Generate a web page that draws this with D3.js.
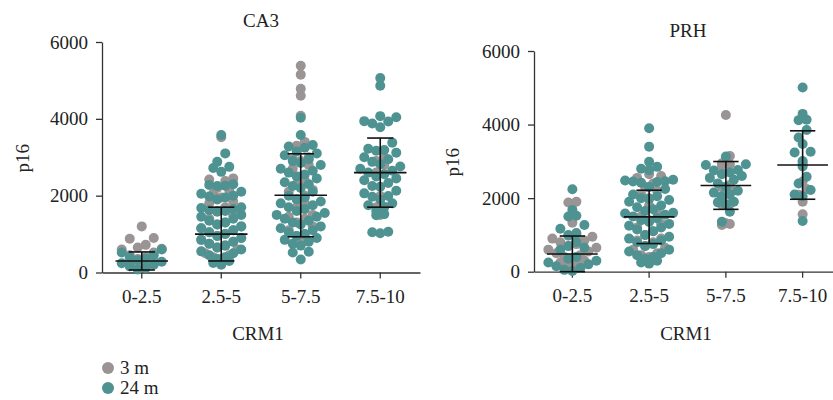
<!DOCTYPE html>
<html>
<head>
<meta charset="utf-8">
<title>p16 vs CRM1</title>
<script src="https://d3js.org/d3.v7.min.js"></script>
<style>
  body { margin: 0; background: #fff; }
  svg { font-family: "Liberation Serif", "DejaVu Serif", serif; }
  .axis { font-family: "Liberation Serif", "DejaVu Serif", serif; }
  .axis path, .axis line { stroke: #333; stroke-width: 1.3; }
  .axis text { font-size: 19px; fill: #222; }
</style>
</head>
<body>
<script>
var categories = ["0-2.5", "2.5-5", "5-7.5", "7.5-10"];
var seriesNames = ["3 m", "24 m"];
var yTicks = [0, 2000, 4000, 6000];

// CA3, values (one list per CRM1 bin)
var ca3Gray = [
  [1200, 900, 880, 720, 650, 620, 600, 520, 450, 400, 350, 300, 250, 200, 150],
  [3520, 2450, 2420, 2380, 2200, 2150, 2050, 1950, 1850, 1800, 1700, 1600, 1500, 1400, 1300, 1250, 1200, 1150, 1100, 1050, 1000, 950, 900, 850, 800, 750, 700, 650, 600, 500, 450, 400, 350, 300],
  [5380, 5150, 4780, 4600, 4080, 3400, 3300, 3000, 2950, 2900, 2800, 2700, 2500, 2400, 2300, 2150, 2100, 2000, 1900, 1800, 1700, 1500, 1450, 1400, 1300, 1200, 1100, 1000, 950, 900],
  [3000, 2900, 2800, 2600, 1990, 1710, 1700, 1500]
];
var ca3Teal = [
  [600, 520, 450, 400, 360, 320, 280, 240, 200, 160, 120, 80],
  [3580, 3100, 2880, 2750, 2720, 2620, 2300, 2280, 2260, 2250, 2100, 2050, 2000, 1980, 1950, 1900, 1700, 1680, 1650, 1620, 1600, 1580, 1500, 1450, 1400, 1350, 1300, 1250, 1200, 1150, 1100, 1050, 1000, 950, 900, 850, 800, 750, 700, 650, 600, 550, 500, 450, 400, 350, 300, 250, 200],
  [4030, 3580, 3320, 3280, 3250, 3150, 3100, 3050, 2950, 2900, 2850, 2800, 2700, 2650, 2600, 2550, 2500, 2450, 2350, 2300, 2250, 2200, 2100, 2000, 1950, 1900, 1850, 1800, 1750, 1700, 1650, 1600, 1550, 1500, 1450, 1400, 1350, 1300, 1250, 1200, 1150, 1100, 1050, 1000, 950, 900, 850, 800, 750, 700, 540, 520, 340],
  [5060, 4860, 4070, 4040, 3940, 3930, 3880, 3780, 3380, 3220, 3190, 3170, 3120, 3000, 2950, 2880, 2820, 2760, 2700, 2650, 2600, 2560, 2500, 2450, 2400, 2330, 2250, 2230, 2130, 2060, 1990, 1970, 1900, 1800, 1750, 1700, 1600, 1520, 1490, 1060, 1050, 1020]
];
var ca3Mean = [300, 1000, 2010, 2600];
var ca3Sd = [235, 700, 1080, 900];

// PRH
var prhGray = [
  [1900, 1880, 1330, 1000, 980, 950, 900, 850, 800, 750, 700, 650, 600, 550, 500, 450, 400, 350, 300, 250, 200, 150],
  [2650, 2600, 2550, 2400, 2300, 2200, 2100, 2000, 1800, 1600, 1500, 1400, 1300, 1200, 1100, 1000, 900, 850, 800, 700, 650, 600, 500, 450, 400, 300],
  [4260, 3145, 2950, 2920, 2880, 2360, 2300, 2250, 2000, 1840, 1820, 1315, 1295, 1270],
  [2980, 2920, 2450, 2250, 2090, 1900, 1560]
];
var prhTeal = [
  [2240, 1680, 1520, 1500, 1270, 1170, 1050, 1000, 800, 700, 650, 600, 400, 350, 300, 250, 200, 150, 100, 50, 20],
  [3900, 3400, 2990, 2850, 2800, 2760, 2500, 2480, 2460, 2450, 2440, 2420, 2300, 2250, 2100, 2050, 2000, 1980, 1950, 1900, 1800, 1750, 1700, 1650, 1600, 1580, 1550, 1500, 1450, 1400, 1350, 1300, 1250, 1200, 1150, 1100, 1000, 950, 900, 850, 800, 750, 700, 600, 550, 500, 450, 400, 350, 300, 250, 220],
  [3130, 2920, 2900, 2765, 2750, 2700, 2650, 2600, 2550, 2500, 2400, 2300, 2200, 2150, 2100, 2050, 1900, 1885, 1830, 1630, 1360],
  [5010, 4290, 4130, 4120, 3850, 3650, 3470, 3260, 3240, 3010, 2860, 2580, 2400, 2220, 2100, 2050, 1380]
];
var prhMean = [480, 1490, 2345, 2900];
var prhSd = [490, 725, 650, 930];

var colors = ["#9a9494", "#4f9292"];

var W = 833, H = 400;
var svg = d3.select("body").append("svg")
    .attr("width", W)
    .attr("height", H);

// beeswarm in the Prism style: rows binned in pixels, lowest value in the middle
function swarm(values, y, cx, spacing, binPx) {
  var pts = [];
  var bins = d3.groups(values.slice().sort(d3.ascending), function(v) {
    return Math.floor((y(0) - y(v)) / binPx);
  });
  bins.forEach(function(b) {
    var vals = b[1], n = vals.length;
    var slots = [];
    if (n % 2) {
      slots.push(0);
      for (var k = 1; slots.length < n; k++) { slots.push(-k); if (slots.length < n) slots.push(k); }
    } else {
      for (var k = 0.5; slots.length < n; k++) { slots.push(-k); slots.push(k); }
    }
    vals.forEach(function(v, i) {
      pts.push({x: cx + slots[i] * spacing, y: y(v)});
    });
  });
  return pts;
}

function panel(opt) {
  var g = svg.append("g");

  var x = d3.scaleBand()
      .domain(categories)
      .range([opt.left, opt.right])
      .padding(0);

  var y = d3.scaleLinear()
      .domain([0, 6000])
      .range([opt.bottom, opt.top]);

  g.append("g")
      .attr("class", "axis")
      .attr("transform", "translate(0," + opt.bottom + ")")
      .call(d3.axisBottom(x).tickSize(6).tickPadding(11).tickSizeOuter(0));

  g.append("g")
      .attr("class", "axis")
      .attr("transform", "translate(" + opt.left + ",0)")
      .call(d3.axisLeft(y).tickValues(yTicks).tickFormat(d3.format("d"))
        .tickSize(6).tickPadding(8).tickSizeOuter(0));

  var bw = x.bandwidth();

  [opt.gray, opt.teal].forEach(function(data, si) {
    data.forEach(function(vals, ci) {
      var cx = x(categories[ci]) + bw / 2;
      g.append("g").selectAll("circle")
        .data(swarm(vals, y, cx, 8, 12))
        .join("circle")
          .attr("cx", function(d) { return d.x; })
          .attr("cy", function(d) { return d.y; })
          .attr("r", 5)
          .attr("fill", colors[si]);
    });
  });

  // mean +/- SD
  var eb = g.append("g")
      .attr("stroke", "#111")
      .attr("stroke-width", 1.6)
    .selectAll("g")
    .data(categories)
    .join("g");
  eb.append("line")
      .attr("x1", function(d) { return x(d) + bw / 2; })
      .attr("x2", function(d) { return x(d) + bw / 2; })
      .attr("y1", function(d, i) { return y(opt.mean[i] + opt.sd[i]); })
      .attr("y2", function(d, i) { return y(Math.max(0, opt.mean[i] - opt.sd[i])); });
  eb.append("line")
      .attr("x1", function(d) { return x(d) + bw * 0.17; })
      .attr("x2", function(d) { return x(d) + bw * 0.83; })
      .attr("y1", function(d, i) { return y(opt.mean[i]); })
      .attr("y2", function(d, i) { return y(opt.mean[i]); });
  [1, -1].forEach(function(s) {
    eb.append("line")
      .attr("x1", function(d) { return x(d) + bw * 0.335; })
      .attr("x2", function(d) { return x(d) + bw * 0.665; })
      .attr("y1", function(d, i) { return y(Math.max(0, opt.mean[i] + s * opt.sd[i])); })
      .attr("y2", function(d, i) { return y(Math.max(0, opt.mean[i] + s * opt.sd[i])); });
  });

  g.append("text")
      .attr("x", opt.titleX)
      .attr("y", opt.titleY)
      .attr("text-anchor", "middle")
      .attr("font-size", 19)
      .attr("fill", "#222")
      .text(opt.title);

  g.append("text")
      .attr("transform", "translate(" + opt.ylabX + "," + ((opt.top + opt.bottom) / 2 + 1) + ") rotate(-90)")
      .attr("text-anchor", "middle")
      .attr("dy", "0.35em")
      .attr("font-size", 19)
      .attr("fill", "#222")
      .text("p16");

  g.append("text")
      .attr("x", opt.xlabX)
      .attr("y", 340)
      .attr("text-anchor", "middle")
      .attr("font-size", 19)
      .attr("fill", "#222")
      .text("CRM1");
}

panel({
  title: "CA3", titleX: 261, titleY: 27,
  left: 102, right: 420, top: 42, bottom: 272.5,
  ylabX: 22, xlabX: 258,
  gray: ca3Gray, teal: ca3Teal, mean: ca3Mean, sd: ca3Sd
});

panel({
  title: "PRH", titleX: 688, titleY: 37,
  left: 534, right: 841, top: 51, bottom: 271.7,
  ylabX: 452, xlabX: 686,
  gray: prhGray, teal: prhTeal, mean: prhMean, sd: prhSd
});

// legend
var legend = svg.append("g")
  .selectAll("g")
  .data(seriesNames)
  .join("g")
    .attr("transform", function(d, i) { return "translate(108," + (368 + i * 20) + ")"; });

legend.append("circle")
    .attr("r", 6)
    .attr("fill", function(d, i) { return colors[i]; });

legend.append("text")
    .attr("x", 12)
    .attr("dy", "0.32em")
    .attr("font-size", 19)
    .attr("fill", "#222")
    .text(function(d) { return d; });
</script>
</body>
</html>
